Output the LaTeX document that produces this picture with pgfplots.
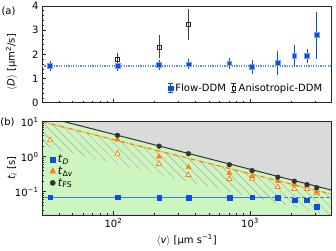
\documentclass[border=0pt]{standalone}
\usepackage{pgfplots}
\pgfplotsset{compat=1.18}
\usepackage{pgfplotstable}
\usepackage{fontspec}
\setmainfont{DejaVu Sans}
\usetikzlibrary{patterns.meta}

\definecolor{flowblue}{HTML}{0B4FE0}
\definecolor{lineblue}{HTML}{3F7FD8}
\definecolor{dotblue}{HTML}{5A8CE6}
\definecolor{orng}{HTML}{FF7F0E}
\definecolor{darkc}{HTML}{333333}
\definecolor{bggreen}{HTML}{CDF5BF}
\definecolor{bggrey}{HTML}{D8DBD7}

\pgfplotstableread{
v D ep em
34.4 1.53 0.06 0.06
107 1.53 0.06 0.06
216 1.56 0.06 0.06
354 1.59 0.07 0.07
706 1.63 0.09 0.09
1035 1.49 0.14 0.14
1596 1.65 0.35 0.34
2110 1.93 0.32 0.30
2612 1.93 0.14 0.14
3075 2.80 0.80 0.83
}\flowtab

\pgfplotstableread{
v D ep em
107 1.79 0.12 0.12
216 2.31 0.31 0.31
354 3.25 0.47 0.48
}\anisotab

\pgfplotstableread{
v t
34.4 0.070
107 0.070
216 0.069
354 0.069
706 0.069
1035 0.070
1596 0.066
2110 0.057
2612 0.057
3075 0.038
}\tDtab

\pgfplotstableread{
v t
107 3.06
216 1.00
354 0.50
706 0.34
1035 0.275
1596 0.20
2110 0.16
2612 0.15
3075 0.098
}\tdvtab

\pgfplotstableread{
v t
34.4 2.94
107 1.22
216 0.62
354 0.30
706 0.23
1035 0.235
1596 0.136
2110 0.12
2612 0.12
3075 0.09
}\tdvhollowtab

\pgfplotstableread{
v t
107 4.1
216 2.0
354 1.22
706 0.59
1035 0.40
1596 0.26
2110 0.20
2612 0.16
3075 0.13
}\tFStab

\begin{document}
\begin{tikzpicture}[x=1pt,y=1pt, font=\fontsize{10}{12}\selectfont]
\path[use as bounding box] (-42pt,-147.3pt) rectangle (294pt,102.7pt);

\begin{axis}[at={(0pt,0pt)}, anchor=south west,
  scale only axis, width=289.7pt, height=96.7pt,
  xmode=log, xmin=30, xmax=3960,
  ymin=0, ymax=4,
  axis line style={line width=0.9pt, black!85},
  tick style={black!85, line width=0.7pt},
  major tick length=4pt, minor tick length=2pt,
  tick pos=left,
  xtick={100,1000},
  minor xtick={40,50,60,70,80,90,200,300,400,500,600,700,800,900,2000,3000},
  xticklabels={,},
  ytick={0,1,2,3,4}, yticklabels={0,1,2,3,4}, minor y tick num=4,
  legend style={at={(0.985,0.15)}, anchor=east, draw=none, fill=none,
    legend columns=2, /tikz/every even column/.append style={column sep=3pt}},
  legend cell align=left]
\addplot[dotblue, line width=1.2pt, dash pattern=on 1.2pt off 1.2pt, forget plot] coordinates {(30,1.52) (3960,1.52)};
\addplot[forget plot, only marks, mark=square*, mark size=2.4pt, flowblue,
  mark options={fill=flowblue, draw=flowblue!55, line width=0.6pt},
  error bars/.cd, y dir=both, y explicit,
  error bar style={flowblue, line width=0.8pt},
  error mark options={mark size=3.5pt, flowblue, line width=0.8pt}]
  table[x=v, y=D, y error plus=ep, y error minus=em] {\flowtab};
\addplot[forget plot, only marks, mark=square, mark size=2pt, black!85, line width=0.7pt,
  mark options={fill=white},
  error bars/.cd, y dir=both, y explicit,
  error bar style={black!75, line width=0.8pt},
  error mark options={mark size=4pt, black!75, line width=0.8pt}]
  table[x=v, y=D, y error plus=ep, y error minus=em] {\anisotab};
\addlegendimage{legend image code/.code={
  \draw[flowblue, line width=0.8pt] (0pt,-4.5pt)--(0pt,4.5pt) (-2.5pt,-4.5pt)--(2.5pt,-4.5pt) (-2.5pt,4.5pt)--(2.5pt,4.5pt);
  \fill[flowblue] (-2.4pt,-2.4pt) rectangle (2.4pt,2.4pt);}}
\addlegendentry{Flow-DDM}
\addlegendimage{legend image code/.code={
  \draw[black!80, line width=0.8pt] (0pt,-4.5pt)--(0pt,4.5pt) (-2.5pt,-4.5pt)--(2.5pt,-4.5pt) (-2.5pt,4.5pt)--(2.5pt,4.5pt);
  \filldraw[draw=black!85, fill=white, line width=0.7pt] (-1.8pt,-1.8pt) rectangle (1.8pt,1.8pt);}}
\addlegendentry{Anisotropic-DDM}
\end{axis}

\begin{axis}[at={(0pt,-19pt)}, anchor=north west,
  scale only axis, width=289.7pt, height=93.3pt,
  xmode=log, xmin=30, xmax=3960,
  ymode=log, ymin=0.0216, ymax=10,
  axis line style={line width=0.9pt, black!85},
  tick style={black!85, line width=0.7pt},
  major tick length=4pt, minor tick length=2pt,
  tick pos=left,
  xtick={100,1000},
  minor xtick={40,50,60,70,80,90,200,300,400,500,600,700,800,900,2000,3000},
  xticklabels={10\textsuperscript{2},10\textsuperscript{3}},
  ytick={0.1,1,10},
  yticklabels={10\textsuperscript{−1},10\textsuperscript{0},10\textsuperscript{1}},
  minor ytick={0.03,0.04,0.05,0.06,0.07,0.08,0.09,0.2,0.3,0.4,0.5,0.6,0.7,0.8,0.9,2,3,4,5,6,7,8,9},
  axis background/.style={fill=bggrey},
  axis on top,
  legend style={at={(0.015,0.69)}, anchor=north west, draw=none, fill=none,
    row sep=-1.5pt, font=\fontsize{11}{13}\selectfont},
  legend cell align=left]
\addplot[fill=bggreen, draw=none, forget plot] coordinates {(30,0.0235) (3960,0.0235) (3960,0.1106) (30,14.6)} --cycle;
\addplot[draw=none, pattern={Lines[angle=-45, distance=6pt, line width=0.45pt]}, pattern color=gray!70, forget plot] coordinates {(30,10) (3960,0.085) (3960,0.0196) (30,2.03)} --cycle;
\addplot[darkc, line width=1pt, forget plot] coordinates {(30,14.6) (3960,0.1106)};
\addplot[orng, line width=1.2pt, dash pattern=on 5pt off 1.5pt on 1pt off 1.5pt, forget plot] coordinates {(30,10) (3960,0.085)};
\addplot[lineblue, line width=1.2pt, forget plot] coordinates {(30,0.07) (1300,0.07)};
\addplot[lineblue, line width=1.2pt, dash pattern=on 4pt off 2pt, forget plot] coordinates {(1300,0.07) (3960,0.07)};
\addplot[only marks, mark=triangle*, mark size=3pt, mark options={fill=white, draw=orng, line width=0.8pt}, forget plot] table[x=v,y=t] {\tdvhollowtab};
\addplot[only marks, mark=triangle*, mark size=3pt, orng, mark options={fill=orng, draw=orng}, forget plot] table[x=v,y=t] {\tdvtab};
\addplot[only marks, mark=*, mark size=2.4pt, darkc, forget plot] table[x=v,y=t] {\tFStab};
\addplot[only marks, mark=square*, mark size=2.4pt, flowblue, forget plot] table[x=v,y=t] {\tDtab};
\addlegendimage{legend image code/.code={\fill[flowblue] (-2.6pt,-2.6pt) rectangle (2.6pt,2.6pt);}}
\addlegendentry{\textit{t}\textsubscript{\textit{D}}}
\addlegendimage{legend image code/.code={\fill[orng] (0pt,3.4pt) -- (-3pt,-2pt) -- (3pt,-2pt) -- cycle;}}
\addlegendentry{\textit{t}\textsubscript{Δ\textit{v}}}
\addlegendimage{legend image code/.code={\fill[darkc] (0pt,0pt) circle (2.6pt);}}
\addlegendentry{\textit{t}\textsubscript{FS}}
\end{axis}

\node at (-33.5pt,91.2pt) {(a)};
\node at (-34.5pt,-19.8pt) {(b)};
\node[rotate=90] at (-30.5pt,40.7pt) {$\langle$\textit{D}$\rangle$ [μm\textsuperscript{2}/s]};
\node[rotate=90] at (-30pt,-65.3pt) {\textit{t}\textsubscript{\textit{i}} [s]};
\node at (144.7pt,-137.3pt) {$\langle$\textit{v}$\rangle$ [μm s\textsuperscript{−1}]};
\end{tikzpicture}
\end{document}
